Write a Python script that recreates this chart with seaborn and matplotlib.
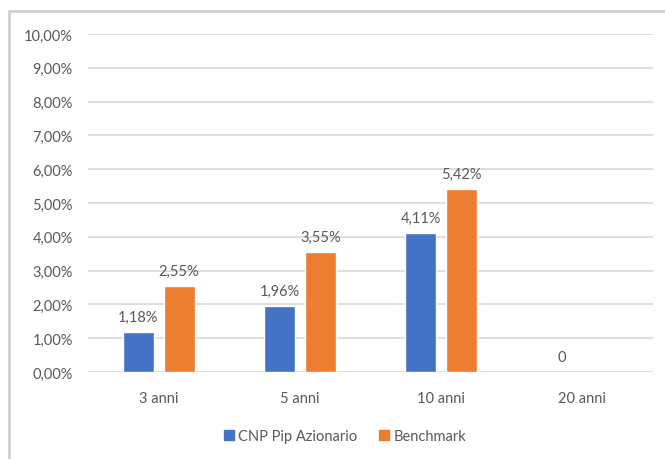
import matplotlib
matplotlib.use("Agg")
import matplotlib.pyplot as plt
import seaborn as sns
import pandas as pd
import numpy as np
from matplotlib.patches import Rectangle

categories = ["3 anni", "5 anni", "10 anni", "20 anni"]
series_names = ["CNP Pip Azionario", "Benchmark"]
cnp_values = [1.18, 1.96, 4.11, 0.0]
benchmark_values = [2.55, 3.55, 5.42, np.nan]
cnp_labels = ["1,18%", "1,96%", "4,11%", "0"]
benchmark_labels = ["2,55%", "3,55%", "5,42%", ""]
y_ticks = [0, 1, 2, 3, 4, 5, 6, 7, 8, 9, 10]
y_tick_labels = ["0,00%", "1,00%", "2,00%", "3,00%", "4,00%", "5,00%",
                 "6,00%", "7,00%", "8,00%", "9,00%", "10,00%"]

colors = ["#4472C4", "#ED7D31"]
text_color = "#595959"
grid_color = "#D9D9D9"

sns.set_theme(style="white")
plt.rcParams['font.family'] = ['Lato', 'DejaVu Sans']

df = pd.DataFrame({
    "Periodo": categories * 2,
    "Serie": [series_names[0]] * 4 + [series_names[1]] * 4,
    "Valore": cnp_values + benchmark_values,
})

fig = plt.figure(figsize=(6.65, 4.6), dpi=100)
ax = fig.add_axes([88 / 665, 1 - 373 / 460, (653 - 88) / 665, (373 - 35) / 460])

sns.barplot(data=df, x="Periodo", y="Valore", hue="Serie", order=categories,
            hue_order=series_names, palette=colors, width=0.58, gap=0.24,
            saturation=1, ax=ax, legend=False, errorbar=None)

ax.set_ylim(0, 10)
ax.set_xlim(-0.5, 3.5)
ax.set_yticks(y_ticks)
ax.set_yticklabels(y_tick_labels)
ax.yaxis.grid(True, color=grid_color, linewidth=1.2)
ax.set_axisbelow(True)
for s in ax.spines.values():
    s.set_visible(False)
ax.tick_params(axis="both", length=0, colors=text_color, labelsize=10.5)
ax.tick_params(axis="y", pad=11)
ax.tick_params(axis="x", pad=14)
ax.set_xlabel("")
ax.set_ylabel("")

label_sets = [cnp_labels, benchmark_labels]
for cont, labs in zip(ax.containers, label_sets):
    for bar, lab in zip(cont, labs):
        if bar is None or not lab:
            continue
        h = bar.get_height()
        if np.isnan(h):
            h = 0
        ax.annotate(lab, (bar.get_x() + bar.get_width() / 2, h),
                    xytext=(0, 6), textcoords="offset points",
                    ha="center", va="bottom", color=text_color, fontsize=10.5)

handles = [Rectangle((0, 0), 1, 1, color=c) for c in colors]
fig.legend(handles, series_names, loc="center", bbox_to_anchor=(345 / 665, 1 - 437 / 460),
           ncol=2, frameon=False, fontsize=10.5, labelcolor=text_color,
           handlelength=0.7, handleheight=0.7, handletextpad=0.3, columnspacing=1.5)

# outer chart border (top and left visible)
fig.add_artist(plt.Line2D([8.5 / 665, 1], [1 - 12 / 460, 1 - 12 / 460], color="#D0D0D0", linewidth=2))
fig.add_artist(plt.Line2D([8.5 / 665, 8.5 / 665], [0, 1 - 12 / 460], color="#D0D0D0", linewidth=2))

fig.savefig("out.png", dpi=100)
